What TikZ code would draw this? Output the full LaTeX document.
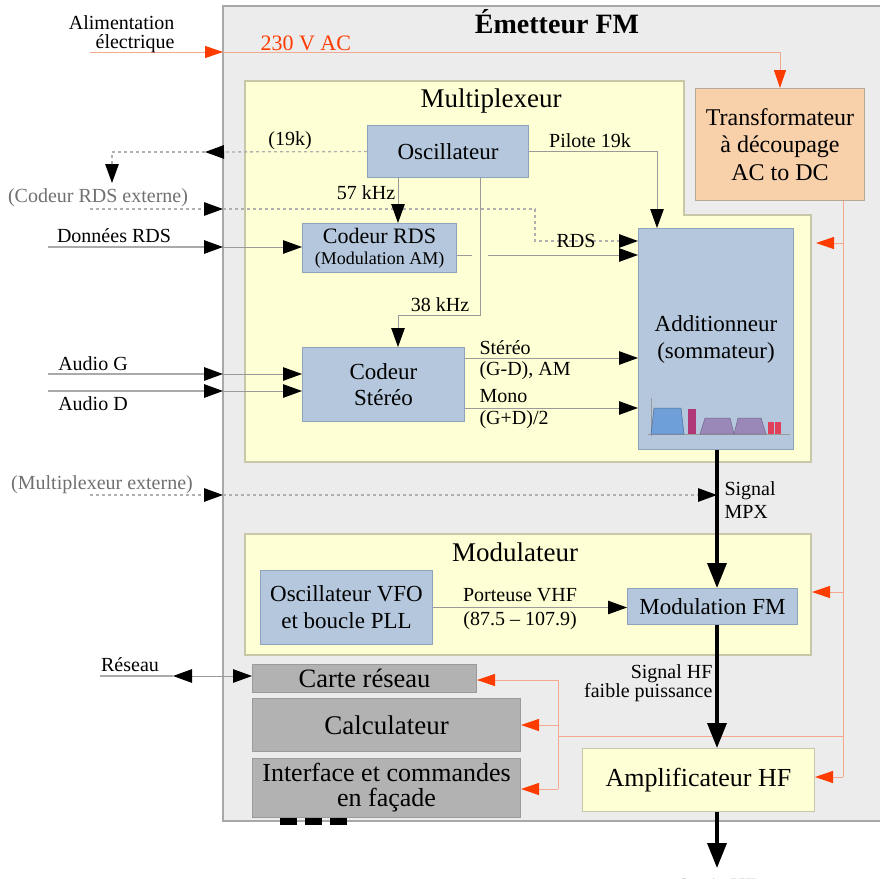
\documentclass[tikz,border=0pt]{standalone}
\usepackage{fontspec}
\setmainfont{Liberation Serif}
\usetikzlibrary{arrows.meta}
\definecolor{bgray}{HTML}{ECECEC}
\definecolor{bgbord}{HTML}{A8A8A8}
\definecolor{yfill}{HTML}{FFFFD5}
\definecolor{ybord}{HTML}{C8C8A8}
\definecolor{bfill}{HTML}{B4C7DC}
\definecolor{bbord}{HTML}{8FA3BD}
\definecolor{pfill}{HTML}{F8D0AA}
\definecolor{pbord}{HTML}{B8A898}
\definecolor{gfill}{HTML}{B2B2B2}
\definecolor{gbord}{HTML}{9A9A9A}
\definecolor{redtip}{HTML}{FF3C00}
\definecolor{redln}{HTML}{F4A890}
\definecolor{lgray}{HTML}{9A9A9A}
\definecolor{ogray}{HTML}{AAAAAA}
\definecolor{dgray}{HTML}{B0B0B0}
\definecolor{txtgray}{HTML}{707070}
\definecolor{specblue}{HTML}{6F9FD8}
\definecolor{specmag}{HTML}{B03878}
\definecolor{specpur}{HTML}{9A88B8}
\definecolor{specred}{HTML}{E0405A}
\tikzset{
  box/.style={draw, line width=1pt, anchor=north west, inner sep=0pt, align=center},
  bluebox/.style={box, draw=bbord, fill=bfill},
  graybox/.style={box, draw=gbord, fill=gfill},
  fa/.style={font=\fontsize{20}{21}\selectfont},
  blk/.style={-{Triangle[length=19pt,width=13.5pt,color=black]}},
  conn/.style={draw=lgray, line width=1pt},
  oconn/.style={draw=ogray, line width=1.4pt},
  dotln/.style={draw=dgray, line width=1.3pt, dash pattern=on 3pt off 3pt},
  redarr/.style={draw=redln, line width=1pt, -{Triangle[length=18pt,width=12pt,color=redtip]}},
  redline/.style={draw=redln, line width=1pt},
  thickarr/.style={draw=black, line width=3.5pt, -{Triangle[length=25pt,width=19pt,color=black]}},
}
\begin{document}
\begin{tikzpicture}[x=1pt,y=-1pt]
\useasboundingbox (0,0) rectangle (880,878);
% outer box
\fill[bgray] (223,6) rectangle (880,821);
\draw[bgbord, line width=1.4pt] (880,6) -- (223,6) -- (223,821) -- (880,821);
\node[font=\bfseries\fontsize{28}{30}\selectfont] (title) at (557,22) {Émetteur FM};
% yellow regions
\filldraw[fill=yfill, draw=ybord, line width=1.2pt] (245,81) -- (684,81) -- (684,215) -- (811,215) -- (811,462) -- (245,462) -- cycle;
\filldraw[fill=yfill, draw=ybord, line width=1.2pt] (245,534) rectangle (811,655);
\node[font=\fontsize{27}{29}\selectfont] (muxtitle) at (491,101) {Multiplexeur};
\node[font=\fontsize{27}{29}\selectfont] (modtitle) at (515,552) {Modulateur};
% boxes
\node[box, draw=pbord, fill=pfill, minimum width=169pt, minimum height=112pt, font=\fontsize{24}{27.5}\selectfont] (trans) at (695,88) {Transformateur\\à découpage\\AC to DC};
\node[bluebox, minimum width=161pt, minimum height=52pt, font=\fontsize{23}{25}\selectfont] (osc) at (367,125) {Oscillateur};
\node[bluebox, minimum width=154pt, minimum height=49pt, font=\fontsize{22}{24}\selectfont] (crds) at (302,223) {Codeur RDS\\[-3pt]{\fontsize{18}{18}\selectfont(Modulation AM)}};
\node[bluebox, minimum width=162pt, minimum height=74pt, font=\fontsize{23}{26}\selectfont] (cst) at (302,347) {Codeur\\Stéréo};
\node[bluebox, minimum width=155pt, minimum height=221pt, font=\fontsize{23}{27}\selectfont] (add) at (638,228) {Additionneur\\(sommateur)};
\node[bluebox, minimum width=172pt, minimum height=74pt, font=\fontsize{23}{27}\selectfont] (vfo) at (260,570) {Oscillateur VFO\\et boucle PLL};
\node[bluebox, minimum width=170pt, minimum height=36pt, font=\fontsize{23}{25}\selectfont] (mfm) at (627,588) {Modulation FM};
\node[box, draw=ybord, fill=yfill, minimum width=232pt, minimum height=63pt, font=\fontsize{26}{28}\selectfont] (ampli) at (582,748) {Amplificateur HF};
\node[graybox, minimum width=224pt, minimum height=28pt, font=\fontsize{26.5}{28}\selectfont] (carte) at (252,664) {Carte réseau};
\node[graybox, minimum width=268pt, minimum height=53pt, font=\fontsize{27}{29}\selectfont] (calc) at (252,698) {Calculateur};
\node[graybox, minimum width=268pt, minimum height=59pt, font=\fontsize{26}{25}\selectfont] (iface) at (252,758) {Interface et commandes\\en façade};
% spectrum
\draw[lgray, line width=0.7pt] (651,398) -- (651,436);
\draw[lgray, line width=0.7pt] (648,434) -- (790,434);
\filldraw[fill=specblue, draw=specblue!70!black, line width=0.5pt] (651,434) -- (654,408) -- (681,408) -- (684,434) -- cycle;
\fill[specmag] (688,409) rectangle (696,434);
\filldraw[fill=specpur, draw=specpur!75!black, line width=0.5pt] (700,434) -- (705,418) -- (730,418) -- (734,434) -- cycle;
\filldraw[fill=specpur, draw=specpur!75!black, line width=0.5pt] (734,434) -- (738,418) -- (761,418) -- (766,434) -- cycle;
\fill[specred] (768,422) rectangle (774,434);
\fill[specred] (775,422) rectangle (781,434);
% front panel buttons
\fill[black] (280,818) rectangle (297,825);
\fill[black] (305,818) rectangle (322,825);
\fill[black] (330,818) rectangle (347,825);
% coordinates
\coordinate (alimIn) at (90,52);
\coordinate (wallAlim) at (223,52);
\coordinate (pX) at (843,0);
\coordinate (pMux) at (843,243);
\coordinate (muxPin) at (816,243);
\coordinate (pMod) at (843,592);
\coordinate (modPin) at (812,592);
\coordinate (pH) at (843,736);
\coordinate (pBot) at (843,777);
\coordinate (pV) at (558,736);
\coordinate (pVt) at (558,680);
\coordinate (pVb) at (558,789);
\coordinate (w19) at (205,152);
\coordinate (ext19) at (112,183);
\coordinate (rdsExtIn) at (90,209);
\coordinate (wallRds) at (223,209);
\coordinate (rdsCorner) at (535,209);
\coordinate (rdsY) at (0,241);
\coordinate (drIn) at (48,247);
\coordinate (wallDr) at (223,247);
\coordinate (agIn) at (48,374);
\coordinate (wallAg) at (223,374);
\coordinate (adIn) at (48,391);
\coordinate (wallAd) at (223,391);
\coordinate (c57) at (398,0);
\coordinate (c38) at (480,0);
\coordinate (k38) at (398,315);
\coordinate (hopY) at (0,255);
\coordinate (hopA) at (472,255);
\coordinate (hopB) at (488,255);
\coordinate (pil) at (657,0);
\coordinate (stY) at (0,358);
\coordinate (mnY) at (0,408);
\coordinate (mpx) at (717,0);
\coordinate (mxIn) at (90,495);
\coordinate (wallMx) at (223,495);
\coordinate (outEnd) at (717,868);
\coordinate (resL) at (100,676);
\coordinate (resTip) at (173,676);
% power connectors
\draw[redarr] (alimIn) -- (wallAlim);
\draw[redarr] (wallAlim) -| (trans.north);
\draw[redline] (trans.south -| pX) -- (pBot);
\draw[redarr] (pMux) -- (muxPin);
\draw[redarr] (pMod) -- (modPin);
\draw[redarr] (pBot) -- (ampli.east |- pBot);
\draw[redline] (pH) -- (pV);
\draw[redline] (pVt) -- (pVb);
\draw[redarr] (pVt) -- (carte.east |- pVt);
\draw[redarr] (pV |- calc.east) -- (calc.east);
\draw[redarr] (pVb) -- (iface.east |- pVb);
% dotted connectors
\draw[dotln, blk] (osc.west) -- (w19);
\draw[dotln, blk] (w19) -| (ext19);
\draw[dotln, blk] (rdsExtIn) -- (wallRds);
\draw[dotln, blk] (wallRds) -- (rdsCorner) |- (add.west |- rdsY);
\draw[dotln, blk] (mxIn) -- (wallMx);
\draw[dotln, blk] (wallMx) -- (mpx |- wallMx);
% inputs
\draw[oconn, blk] (drIn) -- (wallDr);
\draw[conn, blk] (wallDr) -- (crds.west |- wallDr);
\draw[oconn, blk] (agIn) -- (wallAg);
\draw[conn, blk] (wallAg) -- (cst.west |- wallAg);
\draw[oconn, blk] (adIn) -- (wallAd);
\draw[conn, blk] (wallAd) -- (cst.west |- wallAd);
% multiplexer internals
\draw[conn, blk] (osc.south -| c57) -- (crds.north -| c57);
\draw[conn, blk] (osc.south -| c38) |- (k38) -- (cst.north -| k38);
\draw[conn] (crds.east |- hopY) -- (hopA);
\draw[conn, blk] (hopB) -- (add.west |- hopB);
\draw[conn, blk] (osc.east) -| (add.north -| pil);
\draw[conn, blk] (cst.east |- stY) -- (add.west |- stY);
\draw[conn, blk] (cst.east |- mnY) -- (add.west |- mnY);
\draw[conn, blk] (vfo.east) -- (mfm.west |- vfo.east);
% network
\draw[oconn] (resL) -- (resTip);
\draw[conn, {Triangle[length=19pt,width=13.5pt,color=black]}-{Triangle[length=19pt,width=13.5pt,color=black]}] (resTip) -- (carte.west |- resTip);
% main signal path
\draw[thickarr] (add.south -| mpx) -- (mfm.north -| mpx);
\draw[thickarr] (mfm.south -| mpx) -- (ampli.north -| mpx);
\draw[thickarr] (ampli.south -| mpx) -- (outEnd);
% labels
\node[fa, align=right, anchor=east, font=\fontsize{20}{19.5}\selectfont] (alimlbl) at (178,34) {Alimentation\\électrique};
\node[anchor=west, text=redtip, font=\fontsize{22}{24}\selectfont] (aclbl) at (257,43) {230 V AC};
\node[fa] (l19k) at (290,141) {(19k)};
\node[fa] (lpil) at (590,141) {Pilote 19k};
\node[fa, text=txtgray] (lrdsext) at (98,198) {(Codeur RDS externe)};
\node[fa] (l57) at (366,193) {57 kHz};
\node[fa] (ldr) at (114,236) {Données RDS};
\node[fa] (lrds) at (576,241) {RDS};
\node[fa] (l38) at (440,305) {38 kHz};
\node[fa] (lag) at (93,364) {Audio G};
\node[fa] (lad) at (93,404) {Audio D};
\node[anchor=west, align=left, font=\fontsize{20}{21}\selectfont] (lst) at (476,360) {Stéréo\\(G-D), AM};
\node[anchor=west, align=left, font=\fontsize{20}{22}\selectfont] (lmn) at (476,409) {Mono\\(G+D)/2};
\node[fa, text=txtgray] (lmxext) at (102,485) {(Multiplexeur externe)};
\node[anchor=west, align=left, font=\fontsize{20}{23}\selectfont] (lmpx) at (721,500) {Signal\\MPX};
\node[align=center, font=\fontsize{20}{24}\selectfont] (lpor) at (520,609) {Porteuse VHF\\(87.5 – 107.9)};
\node[anchor=east, align=right, font=\fontsize{20}{19.5}\selectfont] (lhf) at (716,683) {Signal HF\\faible puissance};
\node[fa] (lres) at (130,665) {Réseau};
\node[fa] (lout) at (717,886) {Sortie HF};
\end{tikzpicture}
\end{document}
